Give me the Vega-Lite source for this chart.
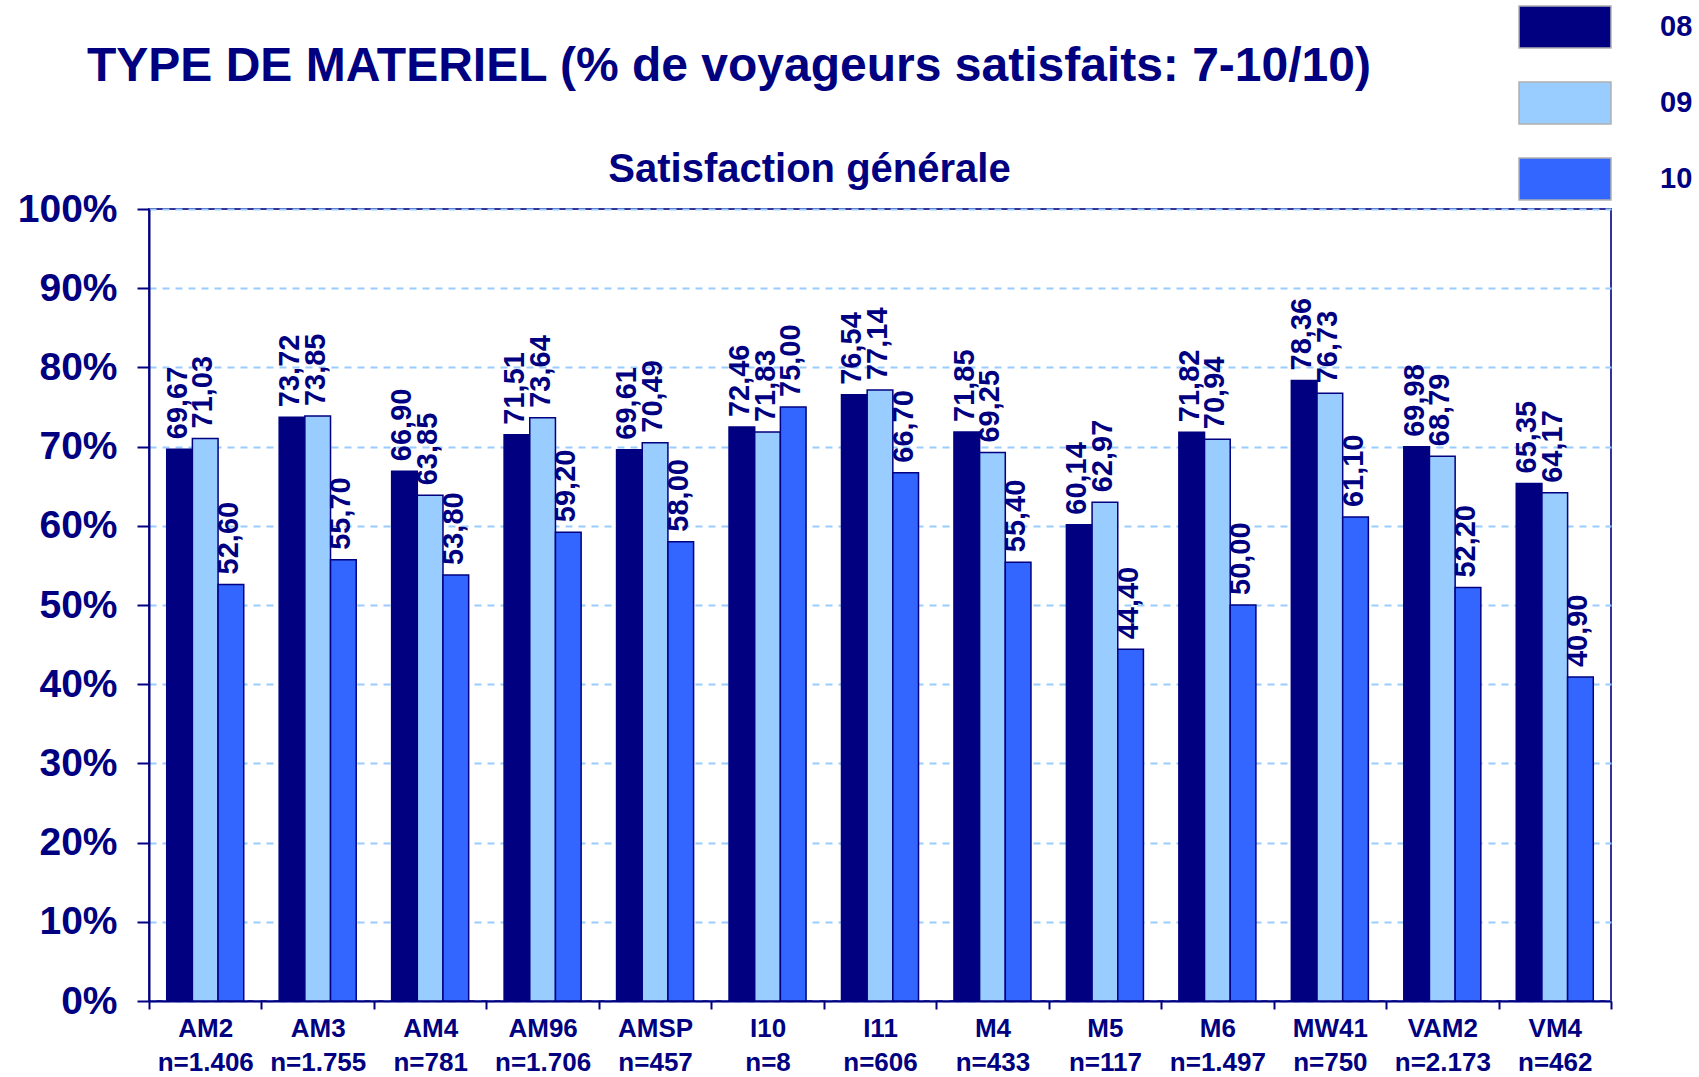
{
  "$schema": "https://vega.github.io/schema/vega-lite/v6.json",
  "width": 1462,
  "height": 792,
  "autosize": {"type": "none"},
  "padding": {"left": 149, "top": 209, "right": 88, "bottom": 76},
  "background": "white",
  "title": {
    "text": "TYPE DE MATERIEL (% de voyageurs satisfaits: 7-10/10)",
    "anchor": "start",
    "frame": "group",
    "dx": -62,
    "offset": -88,
    "fontSize": 48,
    "font": "Liberation Sans",
    "fontWeight": "bold",
    "color": "#000080"
  },
  "config": {
    "font": "Liberation Sans",
    "locale": {"number": {"decimal": ",", "thousands": ".", "grouping": [3], "currency": ["", " €"]}},
    "view": {"stroke": "#333399", "strokeWidth": 2}
  },
  "data": {
    "values": [
      {"materiel": "AM2|n=1.406", "annee": "08", "valeur": 69.67},
      {"materiel": "AM2|n=1.406", "annee": "09", "valeur": 71.03},
      {"materiel": "AM2|n=1.406", "annee": "10", "valeur": 52.60},
      {"materiel": "AM3|n=1.755", "annee": "08", "valeur": 73.72},
      {"materiel": "AM3|n=1.755", "annee": "09", "valeur": 73.85},
      {"materiel": "AM3|n=1.755", "annee": "10", "valeur": 55.70},
      {"materiel": "AM4|n=781", "annee": "08", "valeur": 66.90},
      {"materiel": "AM4|n=781", "annee": "09", "valeur": 63.85},
      {"materiel": "AM4|n=781", "annee": "10", "valeur": 53.80},
      {"materiel": "AM96|n=1.706", "annee": "08", "valeur": 71.51},
      {"materiel": "AM96|n=1.706", "annee": "09", "valeur": 73.64},
      {"materiel": "AM96|n=1.706", "annee": "10", "valeur": 59.20},
      {"materiel": "AMSP|n=457", "annee": "08", "valeur": 69.61},
      {"materiel": "AMSP|n=457", "annee": "09", "valeur": 70.49},
      {"materiel": "AMSP|n=457", "annee": "10", "valeur": 58.00},
      {"materiel": "I10|n=8", "annee": "08", "valeur": 72.46},
      {"materiel": "I10|n=8", "annee": "09", "valeur": 71.83},
      {"materiel": "I10|n=8", "annee": "10", "valeur": 75.00},
      {"materiel": "I11|n=606", "annee": "08", "valeur": 76.54},
      {"materiel": "I11|n=606", "annee": "09", "valeur": 77.14},
      {"materiel": "I11|n=606", "annee": "10", "valeur": 66.70},
      {"materiel": "M4|n=433", "annee": "08", "valeur": 71.85},
      {"materiel": "M4|n=433", "annee": "09", "valeur": 69.25},
      {"materiel": "M4|n=433", "annee": "10", "valeur": 55.40},
      {"materiel": "M5|n=117", "annee": "08", "valeur": 60.14},
      {"materiel": "M5|n=117", "annee": "09", "valeur": 62.97},
      {"materiel": "M5|n=117", "annee": "10", "valeur": 44.40},
      {"materiel": "M6|n=1.497", "annee": "08", "valeur": 71.82},
      {"materiel": "M6|n=1.497", "annee": "09", "valeur": 70.94},
      {"materiel": "M6|n=1.497", "annee": "10", "valeur": 50.00},
      {"materiel": "MW41|n=750", "annee": "08", "valeur": 78.36},
      {"materiel": "MW41|n=750", "annee": "09", "valeur": 76.73},
      {"materiel": "MW41|n=750", "annee": "10", "valeur": 61.10},
      {"materiel": "VAM2|n=2.173", "annee": "08", "valeur": 69.98},
      {"materiel": "VAM2|n=2.173", "annee": "09", "valeur": 68.79},
      {"materiel": "VAM2|n=2.173", "annee": "10", "valeur": 52.20},
      {"materiel": "VM4|n=462", "annee": "08", "valeur": 65.35},
      {"materiel": "VM4|n=462", "annee": "09", "valeur": 64.17},
      {"materiel": "VM4|n=462", "annee": "10", "valeur": 40.90}
    ]
  },
  "encoding": {
    "xOffset": {"field": "annee", "type": "nominal", "sort": ["08", "09", "10"], "scale": {"paddingInner": 0, "paddingOuter": 0.69}},
    "y": {
      "field": "valeur",
      "type": "quantitative",
      "scale": {"domain": [0, 100], "nice": false},
      "axis": {
        "title": null,
        "values": [0, 10, 20, 30, 40, 50, 60, 70, 80, 90, 100],
        "labelExpr": "datum.value + '%'",
        "labelFontSize": 39,
        "labelFontWeight": "bold",
        "labelColor": "#000080",
        "labelPadding": 20,
        "tickSize": 12,
        "tickColor": "#000080",
        "tickWidth": 2,
        "domainColor": "#000080",
        "domainWidth": 2,
        "grid": true,
        "gridColor": "#99CCFF",
        "gridDash": [7, 6],
        "gridWidth": 2
      }
    }
  },
  "layer": [
    {
      "mark": {"type": "bar", "stroke": "#000080", "strokeWidth": 1.5},
      "encoding": {
        "x": {
          "field": "materiel",
          "type": "nominal",
          "sort": null,
          "scale": {"paddingInner": 0, "paddingOuter": 0},
          "axis": {
            "title": null,
            "orient": "bottom",
            "labelAngle": 0,
            "labelExpr": "split(datum.label, '|')",
            "labelFontSize": 26,
            "labelFontWeight": "bold",
            "labelColor": "#000080",
            "labelLineHeight": 34,
            "labelPadding": 6,
            "tickBand": "extent",
            "tickSize": 8,
            "tickColor": "#000080",
            "tickWidth": 2,
            "domainColor": "#000080",
            "domainWidth": 2,
            "grid": false
          }
        },
        "color": {
          "field": "annee",
          "type": "nominal",
          "scale": {"domain": ["08", "09", "10"], "range": ["#000080", "#99CCFF", "#3366FF"]},
          "legend": {
            "title": null,
            "orient": "none",
            "legendX": 1392,
            "legendY": -206,
            "symbolType": "M-2,-0.913H2V0.913H-2Z",
            "symbolSize": 2116,
            "symbolStrokeColor": "#b0b0b0",
            "symbolStrokeWidth": 1.5,
            "symbolOpacity": 1,
            "labelFontSize": 29,
            "labelFontWeight": "bold",
            "labelColor": "#000080",
            "labelOffset": 71,
            "rowPadding": 28
          }
        }
      }
    },
    {
      "mark": {"type": "text", "angle": 270, "align": "left", "baseline": "middle", "dx": 10, "dy": -2, "fontSize": 29, "fontWeight": "bold", "color": "#000080"},
      "encoding": {
        "x": {
          "field": "materiel",
          "type": "nominal",
          "sort": null,
          "axis": {
            "orient": "top",
            "title": "Satisfaction générale",
            "titleFontSize": 40,
            "titleFontWeight": "bold",
            "titleColor": "#000080",
            "titlePadding": 20,
            "titleX": 660,
            "titleAlign": "center",
            "labels": false,
            "ticks": false,
            "domain": false,
            "grid": false
          }
        },
        "text": {"field": "valeur", "type": "quantitative", "format": ".2f"}
      }
    }
  ],
  "resolve": {"axis": {"x": "independent"}}
}
